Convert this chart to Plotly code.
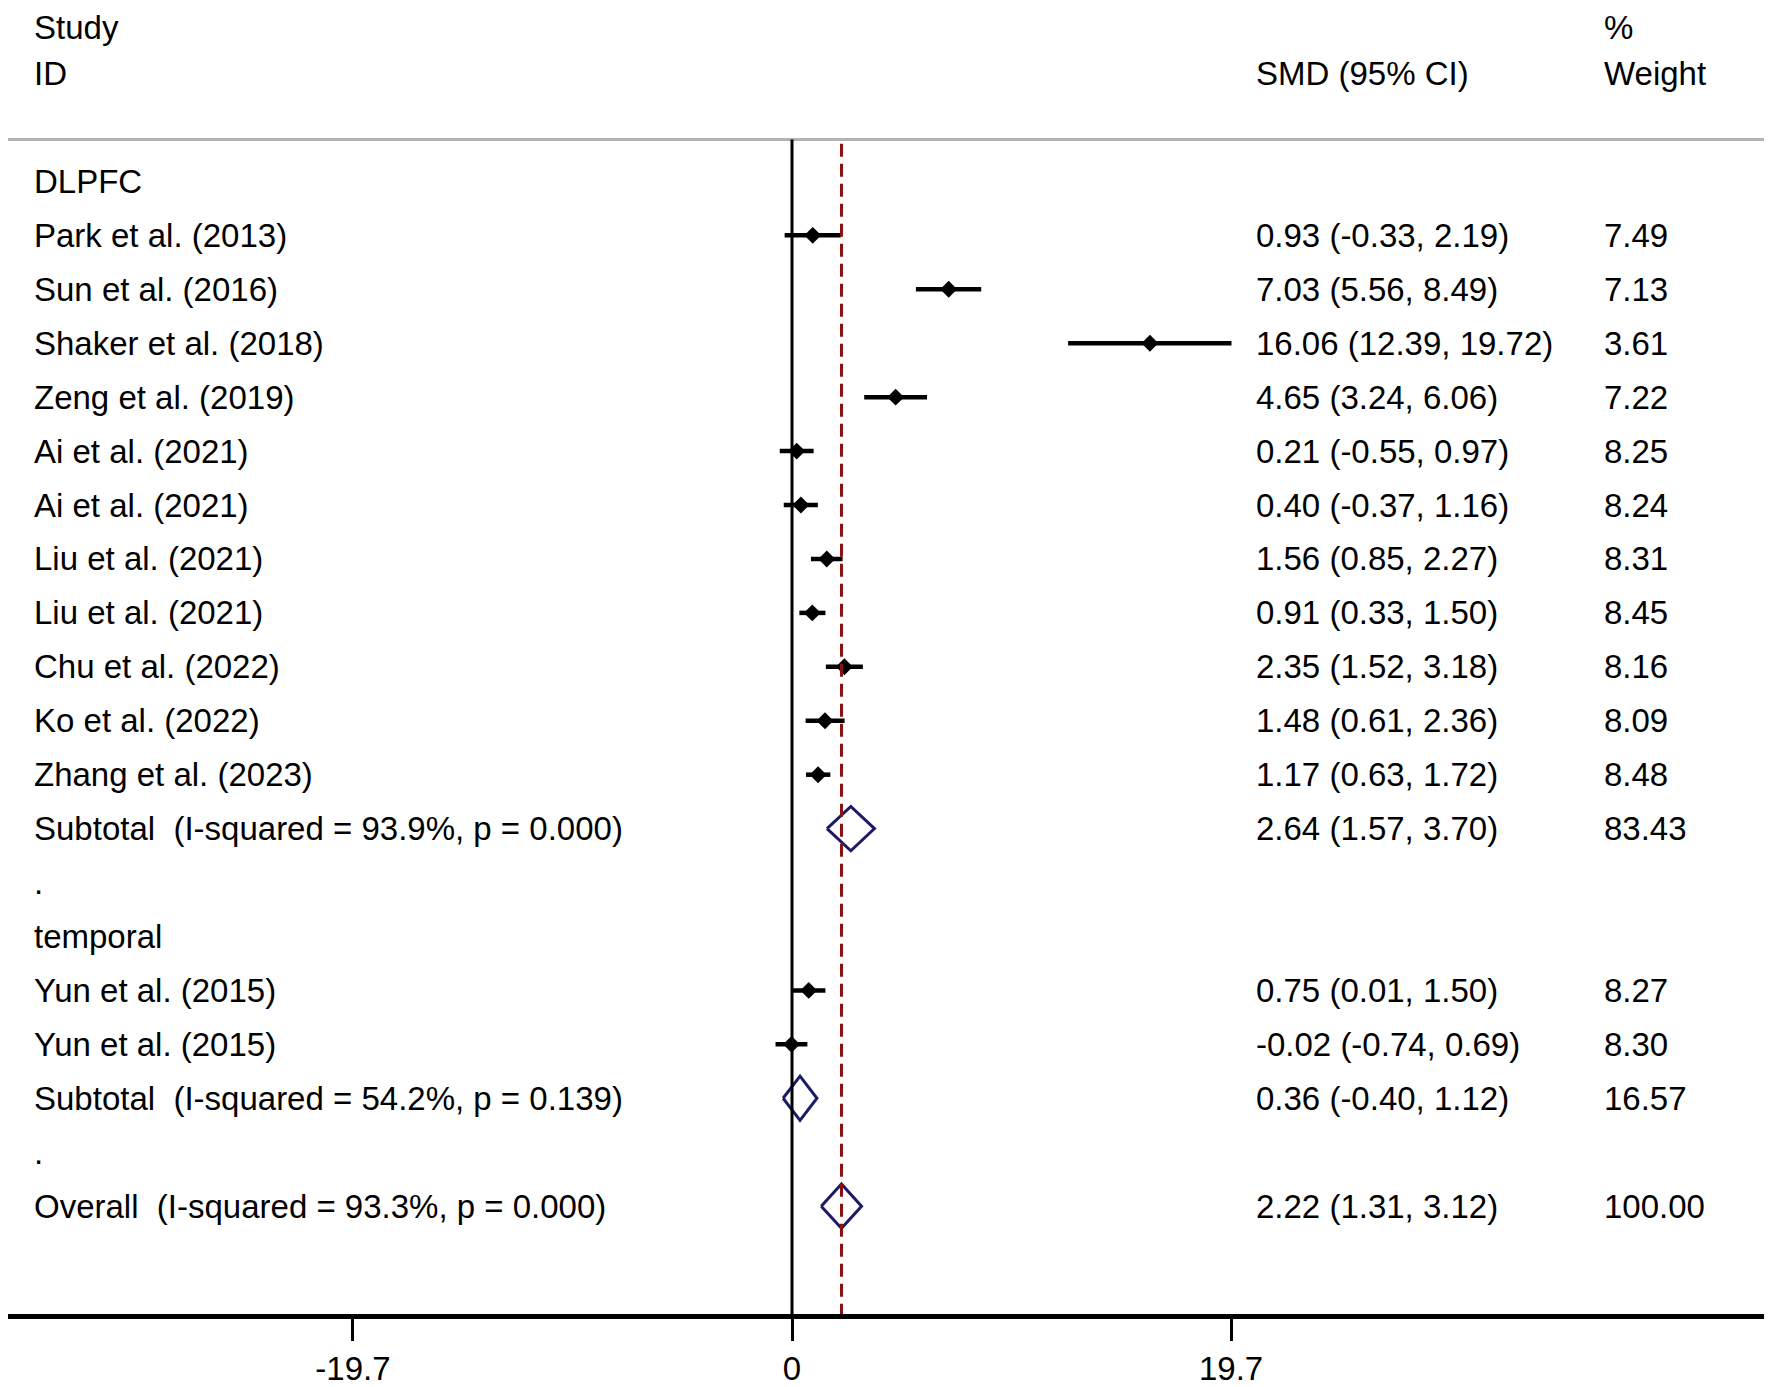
import plotly.graph_objects as go

# estudos por região (DLPFC e temporal)
dlpfc_study = ["Park et al. (2013)", "Sun et al. (2016)", "Shaker et al. (2018)",
               "Zeng et al. (2019)", "Ai et al. (2021)", "Ai et al. (2021)",
               "Liu et al. (2021)", "Liu et al. (2021)", "Chu et al. (2022)",
               "Ko et al. (2022)", "Zhang et al. (2023)"]
dlpfc_smd = [0.93, 7.03, 16.06, 4.65, 0.21, 0.40, 1.56, 0.91, 2.35, 1.48, 1.17]
dlpfc_lo = [-0.33, 5.56, 12.39, 3.24, -0.55, -0.37, 0.85, 0.33, 1.52, 0.61, 0.63]
dlpfc_hi = [2.19, 8.49, 19.72, 6.06, 0.97, 1.16, 2.27, 1.50, 3.18, 2.36, 1.72]
dlpfc_wt = [7.49, 7.13, 3.61, 7.22, 8.25, 8.24, 8.31, 8.45, 8.16, 8.09, 8.48]

temporal_study = ["Yun et al. (2015)", "Yun et al. (2015)"]
temporal_smd = [0.75, -0.02]
temporal_lo = [0.01, -0.74]
temporal_hi = [1.50, 0.69]
temporal_wt = [8.27, 8.30]

# subtotais e total
pooled_label = ["Subtotal\u00a0 (I-squared = 93.9%, p = 0.000)",
                "Subtotal\u00a0 (I-squared = 54.2%, p = 0.139)",
                "Overall\u00a0 (I-squared = 93.3%, p = 0.000)"]
pooled_smd = [2.64, 0.36, 2.22]
pooled_lo = [1.57, -0.40, 1.31]
pooled_hi = [3.70, 1.12, 3.12]
pooled_wt = [83.43, 16.57, 100.00]

tick_vals = [-19.7, 0, 19.7]
tick_text = ["-19.7", "0", "19.7"]

FONT = "Liberation Sans, Arial, sans-serif"
FS = 33
X_LEFT, X_SMD, X_WT = -34.1, 20.72, 36.33   # colunas de texto (unidades do eixo)
DH = 0.41  # meia altura do losango

# monta as linhas da tabela
rows = []  # (texto, smd, lo, hi, peso, tipo)
rows.append(("DLPFC", None, None, None, None, "label"))
for i in range(len(dlpfc_study)):
    rows.append((dlpfc_study[i], dlpfc_smd[i], dlpfc_lo[i], dlpfc_hi[i], dlpfc_wt[i], "study"))
rows.append((pooled_label[0], pooled_smd[0], pooled_lo[0], pooled_hi[0], pooled_wt[0], "pooled"))
rows.append((".", None, None, None, None, "label"))
rows.append(("temporal", None, None, None, None, "label"))
for i in range(len(temporal_study)):
    rows.append((temporal_study[i], temporal_smd[i], temporal_lo[i], temporal_hi[i], temporal_wt[i], "study"))
rows.append((pooled_label[1], pooled_smd[1], pooled_lo[1], pooled_hi[1], pooled_wt[1], "pooled"))
rows.append((".", None, None, None, None, "label"))
rows.append((pooled_label[2], pooled_smd[2], pooled_lo[2], pooled_hi[2], pooled_wt[2], "pooled"))

ci_x, ci_y, pt_x, pt_y, dm_x, dm_y = [], [], [], [], [], []
annotations = []


def txt(x, y, s):
    annotations.append(dict(x=x, y=y, xref="x", yref="y", text=s, showarrow=False,
                            xanchor="left", yanchor="middle",
                            font=dict(family=FONT, size=FS, color="black")))


for r, (label, est, lo, hi, wt, kind) in enumerate(rows):
    txt(X_LEFT, r, label)
    if kind == "label":
        continue
    txt(X_SMD, r, f"{est:.2f} ({lo:.2f}, {hi:.2f})")
    txt(X_WT, r, f"{wt:.2f}")
    if kind == "study":
        ci_x += [lo, hi, None]
        ci_y += [r, r, None]
        pt_x.append(est)
        pt_y.append(r)
    else:
        dm_x += [lo, est, hi, est, lo, None]
        dm_y += [r, r - DH, r, r + DH, r, None]

# cabeçalho
txt(X_LEFT, -2.86, "Study")
txt(X_LEFT, -2, "ID")
txt(X_SMD, -2, "SMD (95% CI)")
txt(X_WT, -2.86, "%")
txt(X_WT, -2, "Weight")

fig = go.Figure()
fig.add_trace(go.Scatter(x=ci_x, y=ci_y, mode="lines",
                         line=dict(color="black", width=4.5), hoverinfo="skip"))
fig.add_trace(go.Scatter(x=pt_x, y=pt_y, mode="markers",
                         marker=dict(symbol="diamond", size=13, color="black")))
fig.add_trace(go.Scatter(x=dm_x, y=dm_y, mode="lines",
                         line=dict(color="#1b1b66", width=3), hoverinfo="skip"))

overall = pooled_smd[2]
fig.add_shape(type="line", xref="paper", yref="y", x0=0.0, x1=1.002, y0=-0.78, y1=-0.78,
              line=dict(color="#b3b3b3", width=3))
fig.add_shape(type="line", xref="x", yref="y", x0=0, x1=0, y0=-0.78, y1=21,
              line=dict(color="black", width=3))
fig.add_shape(type="line", xref="x", yref="y", x0=overall, x1=overall, y0=-0.70, y1=21,
              line=dict(color="#8b1010", width=3, dash="13px,7px"))

# a página tem margem de 8px no body, por isso 1764x1379
fig.update_layout(
    width=1764, height=1379,
    margin=dict(l=0, r=7, t=0, b=69, pad=0),
    paper_bgcolor="white", plot_bgcolor="white",
    showlegend=False,
    annotations=annotations,
    font=dict(family=FONT, size=FS, color="black"),
)
fig.update_xaxes(range=[-35.18, 43.66], showgrid=False, zeroline=False,
                 showline=True, linecolor="black", linewidth=4.5,
                 ticks="outside", ticklen=22, tickwidth=3, tickcolor="black",
                 tickvals=tick_vals, ticktext=tick_text,
                 tickfont=dict(family=FONT, size=FS, color="black"))
fig.update_yaxes(range=[21.0, -3.216], visible=False)

fig.write_html("out.html")
